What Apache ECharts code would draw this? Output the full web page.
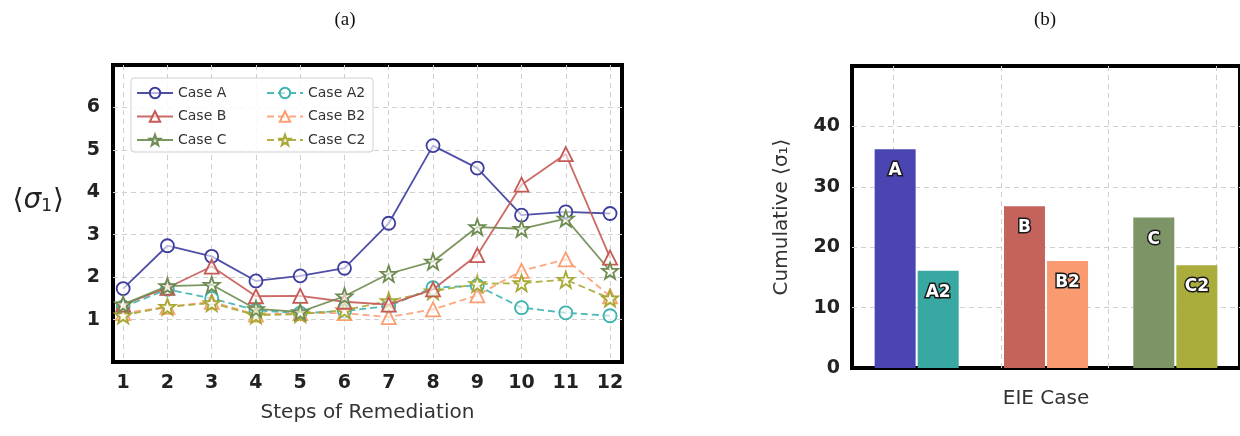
<!DOCTYPE html>
<html>
<head>
<meta charset="utf-8">
<script src="https://cdn.jsdelivr.net/npm/echarts@6/dist/echarts.min.js"></script>
<style>html,body{margin:0;padding:0;background:#fff}#c{width:1240px;height:436px}</style>
</head>
<body>
<div id="c"></div>
<script>
// ---- data (panel a) ----
const steps = [1,2,3,4,5,6,7,8,9,10,11,12];
const caseA  = [1.73, 2.74, 2.49, 1.91, 2.03, 2.21, 3.27, 5.10, 4.57, 3.46, 3.54, 3.50];
const caseB  = [1.35, 1.75, 2.25, 1.55, 1.56, 1.42, 1.35, 1.71, 2.52, 4.18, 4.90, 2.46];
const caseC  = [1.36, 1.79, 1.82, 1.25, 1.18, 1.55, 2.08, 2.37, 3.18, 3.14, 3.38, 2.15];
const caseA2 = [1.30, 1.71, 1.50, 1.22, 1.15, 1.20, 1.32, 1.75, 1.80, 1.28, 1.16, 1.09];
const caseB2 = [1.15, 1.30, 1.42, 1.12, 1.15, 1.15, 1.06, 1.24, 1.57, 2.15, 2.42, 1.55];
const caseC2 = [1.10, 1.30, 1.39, 1.10, 1.13, 1.22, 1.44, 1.67, 1.84, 1.86, 1.94, 1.50];
const yTicksA = [1,2,3,4,5,6];
// ---- data (panel b) ----
const groups = ['A','B','C'];
const cumPrimary   = [36.2, 26.8, 24.9];
const cumSecondary = [16.1, 17.7, 17.0];
const labelsPrimary   = ['A','B','C'];
const labelsSecondary = ['A2','B2','C2'];
const yTicksB = [0,10,20,30,40];
const yGridB  = [10,20,30,40];
const xGridB  = [0,1,2,3];

const STAR = 'path://M0,-10L2.35,-3.24L9.51,-3.09L3.8,1.24L5.88,8.09L0,4L-5.88,8.09L-3.8,1.24L-9.51,-3.09L-2.35,-3.24Z';
const FONT = 'DejaVu Sans';
const GRIDLINE = { show: true, lineStyle: { color: '#cfcfcf', type: [5, 4], width: 1 } };

function lineSeries(name, vals, color, symbol, dashed, size) {
  return {
    name: name, type: 'line', xAxisIndex: 0, yAxisIndex: 0,
    data: steps.map((s, i) => [s, vals[i]]),
    symbol: symbol, symbolSize: size,
    lineStyle: { color: color, width: 1.8, type: dashed ? [7, 4] : 'solid', opacity: 0.9 },
    itemStyle: { color: 'rgba(255,255,255,0.6)', borderColor: color, borderWidth: 1.8 },
    emphasis: { disabled: true },
    z: dashed ? 3 : 4
  };
}

const cA = '#3c3c9e', cB = '#c65a55', cC = '#6e8b50', cA2 = '#3db3b0', cB2 = '#fb9e72', cC2 = '#a8a834';

const chart = echarts.init(document.getElementById('c'), null, { renderer: 'canvas' });
const option = {
  animation: false,
  backgroundColor: '#fff',
  title: [
    { text: '(a)', left: 340, top: 6, textAlign: 'center',
      textStyle: { fontFamily: 'Liberation Serif', fontSize: 19, fontWeight: 'normal', color: '#111' } },
    { text: '(b)', left: 1040, top: 6, textAlign: 'center',
      textStyle: { fontFamily: 'Liberation Serif', fontSize: 19, fontWeight: 'normal', color: '#111' } }
  ],
  graphic: [
    { type: 'rect', z: 1, shape: { x: 131, y: 78, width: 242, height: 74, r: 3 },
      style: { fill: 'rgba(255,255,255,0.85)', stroke: '#d0d0d0', lineWidth: 1 } }
  ],
  legend: [
    { data: ['Case A','Case B','Case C'], orient: 'vertical', left: 136, top: 86, z: 5,
      itemWidth: 36, itemHeight: 13, itemGap: 9.5, padding: 0,
      textStyle: { fontFamily: FONT, fontSize: 14, color: '#333' } },
    { data: ['Case A2','Case B2','Case C2'], orient: 'vertical', left: 266, top: 86, z: 5,
      itemWidth: 36, itemHeight: 13, itemGap: 9.5, padding: 0,
      textStyle: { fontFamily: FONT, fontSize: 14, color: '#333' } }
  ],
  grid: [
    { left: 113, top: 65, width: 509, height: 297, show: true, borderColor: '#000', borderWidth: 4, backgroundColor: 'transparent' },
    { left: 852, top: 66, width: 392, height: 302, show: true, borderColor: '#000', borderWidth: 4, backgroundColor: 'transparent' }
  ],
  xAxis: [
    { type: 'value', gridIndex: 0, min: 0.77, max: 12.27,
      name: 'Steps of Remediation', nameLocation: 'middle', nameGap: 41,
      nameTextStyle: { fontFamily: FONT, fontSize: 20, color: '#333' },
      axisLine: { show: false }, axisTick: { show: false, customValues: steps },
      axisLabel: { customValues: steps, margin: 12,
        fontFamily: FONT, fontSize: 19, fontWeight: 'bold', color: '#222' },
      splitLine: GRIDLINE },
    { type: 'category', gridIndex: 1, data: groups,
      name: 'EIE Case', nameLocation: 'middle', nameGap: 21,
      nameTextStyle: { fontFamily: FONT, fontSize: 20, color: '#333' },
      axisLine: { show: false }, axisTick: { show: false }, axisLabel: { show: false },
      splitLine: { show: false } },
    { type: 'value', gridIndex: 1, min: -0.386, max: 3.22, position: 'top',
      axisLine: { show: false }, axisTick: { show: false, customValues: xGridB },
      axisLabel: { show: false, customValues: xGridB },
      splitLine: GRIDLINE }
  ],
  yAxis: [
    { type: 'value', gridIndex: 0, min: 0, max: 7,
      name: '{a|⟨}{g|σ}{s|1}{a|⟩}', nameLocation: 'middle', nameRotate: 0, nameGap: 49,
      nameTextStyle: { padding: [0, 0, 26, 0],
        rich: { a: { fontFamily: FONT, fontSize: 28, color: '#222' },
                g: { fontFamily: FONT, fontSize: 28, fontStyle: 'italic', color: '#222' },
                s: { fontFamily: FONT, fontSize: 17, color: '#222', padding: [12, 1, 0, 0] } } },
      axisLine: { show: false }, axisTick: { show: false, customValues: yTicksA },
      axisLabel: { customValues: yTicksA, margin: 13,
        fontFamily: FONT, fontSize: 19, fontWeight: 'bold', color: '#222' },
      splitLine: GRIDLINE },
    { type: 'value', gridIndex: 1, min: 0, max: 50,
      name: 'Cumulative ⟨σ₁⟩', nameLocation: 'middle', nameRotate: 90, nameGap: 60,
      nameTextStyle: { fontFamily: FONT, fontSize: 20, color: '#333' },
      axisLine: { show: false }, axisTick: { show: false, customValues: yGridB },
      axisLabel: { customValues: yTicksB, margin: 12,
        fontFamily: FONT, fontSize: 19, fontWeight: 'bold', color: '#222' },
      splitLine: GRIDLINE }
  ],
  series: [
    lineSeries('Case A',  caseA,  cA,  'circle',   false, 13),
    lineSeries('Case B',  caseB,  cB,  'triangle', false, 14),
    lineSeries('Case C',  caseC,  cC,  STAR,       false, 16),
    lineSeries('Case A2', caseA2, cA2, 'circle',   true,  13),
    lineSeries('Case B2', caseB2, cB2, 'triangle', true,  14),
    lineSeries('Case C2', caseC2, cC2, STAR,       true,  16),
    { type: 'bar', xAxisIndex: 1, yAxisIndex: 1, name: 'primary',
      data: cumPrimary.map((v, i) => ({ value: v, itemStyle: { color: ['#4a45b2','#c4625c','#7c9466'][i] } })),
      barWidth: 41, barGap: '5%', z: 3,
      label: { show: true, position: 'insideTop', distance: 13,
        formatter: p => labelsPrimary[p.dataIndex],
        fontFamily: FONT, fontSize: 17, fontWeight: 'bold', color: '#fff',
        textBorderColor: '#1a1a1a', textBorderWidth: 3 } },
    { type: 'bar', xAxisIndex: 1, yAxisIndex: 1, name: 'secondary',
      data: cumSecondary.map((v, i) => ({ value: v, itemStyle: { color: ['#3aa8a2','#fa9a70','#aaac3c'][i] } })),
      barWidth: 41, barGap: '5%', z: 3,
      label: { show: true, position: 'insideTop', distance: 13,
        formatter: p => labelsSecondary[p.dataIndex],
        fontFamily: FONT, fontSize: 17, fontWeight: 'bold', color: '#fff',
        textBorderColor: '#1a1a1a', textBorderWidth: 3 } }
  ]
};
chart.setOption(option);
</script>
</body>
</html>
